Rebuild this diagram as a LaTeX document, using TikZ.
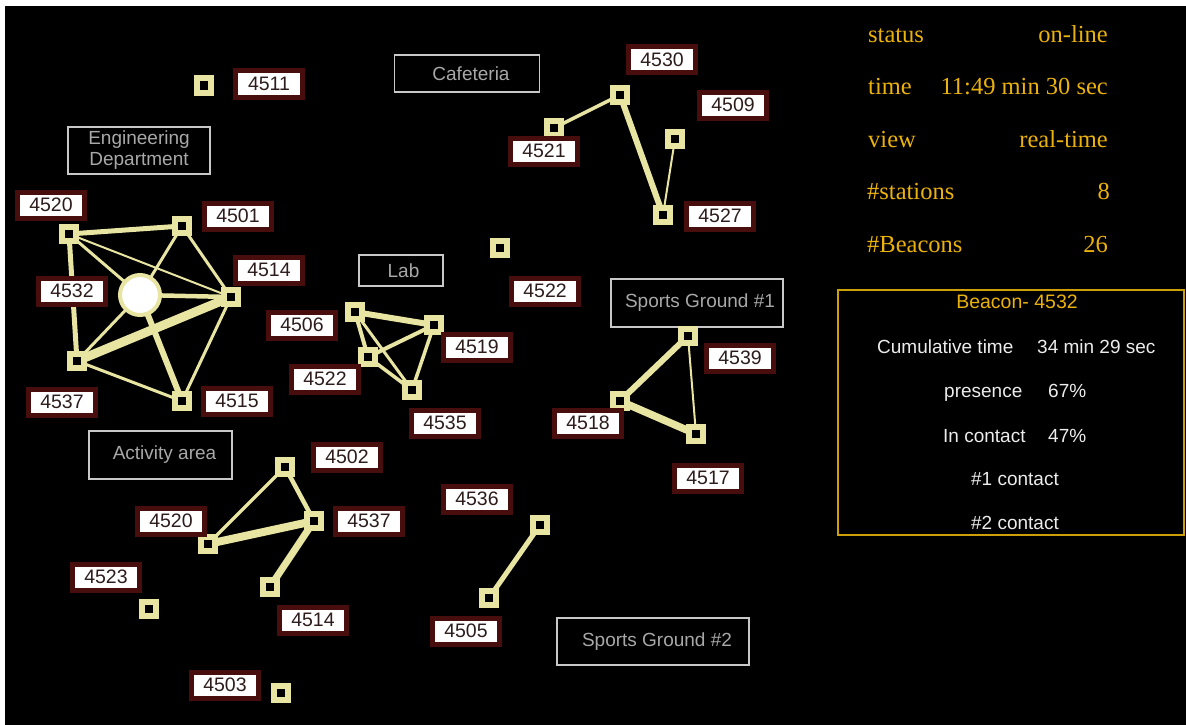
\documentclass[tikz,border=0pt]{standalone}
\usepackage{fontspec}
\setmainfont{Liberation Sans}
\newfontfamily\goldserif{Liberation Serif}
\definecolor{cream}{RGB}{232,228,162}
\definecolor{tagborder}{RGB}{72,14,14}
\definecolor{tagtext}{RGB}{45,28,28}
\definecolor{areaborder}{RGB}{200,200,200}
\definecolor{areatext}{RGB}{168,168,168}
\definecolor{goldtext}{RGB}{236,178,12}
\definecolor{goldbox}{RGB}{205,160,10}
\definecolor{paneltext}{RGB}{236,236,236}
\pgfdeclarelayer{bg}
\pgfdeclarelayer{edges}
\pgfsetlayers{bg,edges,main}
\tikzset{
  beacon/.style={rectangle, fill=black, draw=cream, line width=6pt, minimum size=14pt, inner sep=0pt},
  hub/.style={circle, fill=white, draw=cream, line width=4pt, minimum size=40pt, inner sep=0pt},
  tag/.style={rectangle, fill=white, draw=tagborder, line width=5pt, minimum width=67pt, minimum height=26pt, inner sep=0pt, text=tagtext, font=\fontsize{19.5}{21}\selectfont},
  area/.style={rectangle, draw=areaborder, line width=1.5pt, text=areatext, font=\fontsize{19}{21}\selectfont, inner sep=0pt, align=center},
  link/.style={draw=cream, line width=#1},
  statl/.style={anchor=base west, text=goldtext, font=\goldserif\fontsize{24.5}{26}\selectfont, inner sep=0pt},
  statr/.style={anchor=base east, text=goldtext, font=\goldserif\fontsize{24.5}{26}\selectfont, inner sep=0pt},
  infol/.style={anchor=base west, text=paneltext, font=\fontsize{19}{21}\selectfont, inner sep=0pt},
  infoc/.style={anchor=base, text=paneltext, font=\fontsize{19}{21}\selectfont, inner sep=0pt}
}
\begin{document}
\begin{tikzpicture}[x=1pt, y=-1pt]
\useasboundingbox (0,0) rectangle (1186,725);
\begin{pgfonlayer}{bg}
  \fill[white] (0,0) rectangle (1186,725);
  \fill[black] (5,6) rectangle (1186,725);
\end{pgfonlayer}

% ---------- area boxes ----------
\node[area, minimum width=142pt, minimum height=47pt] (engdept) at (139,150.5) {Engineering\\Department};
\node[area, minimum width=145pt, minimum height=37pt] (cafeteria) at (467,73.5) {\hspace*{8pt}Cafeteria};
\node[area, minimum width=84pt, minimum height=31pt] (lab) at (401,270.5) {\hspace*{5pt}Lab};
\node[area, minimum width=172pt, minimum height=48pt] (sg1) at (697,303) {\hspace*{6pt}Sports Ground \#1};
\node[area, minimum width=143pt, minimum height=48pt] (activity) at (160.5,455) {\hspace*{8pt}Activity area};
\node[area, minimum width=192pt, minimum height=47pt] (sg2) at (653,641.5) {\hspace*{8pt}Sports Ground \#2};

% ---------- engineering group ----------
\node[beacon] (e4511) at (203.5,85.5) {};
\node[beacon] (e4520) at (69,234) {};
\node[beacon] (e4501) at (182,226) {};
\node[beacon] (e4514) at (231,297) {};
\node[hub] (e4532) at (140,295) {};
\node[beacon] (e4537) at (77,361) {};
\node[beacon] (e4515) at (182,401) {};
\node[tag] (t4511) at (269,84) {4511};
\node[tag] (t4520) at (51,205) {4520};
\node[tag] (t4501) at (238,216) {4501};
\node[tag] (t4514) at (269,270) {4514};
\node[tag] (t4532) at (72,291) {4532};
\node[tag] (t4537) at (62,402) {4537};
\node[tag] (t4515) at (237,401) {4515};

% ---------- cafeteria group ----------
\node[beacon] (c4530) at (620,95) {};
\node[beacon] (c4521) at (554,128) {};
\node[beacon] (c4509) at (675,139) {};
\node[beacon] (c4527) at (663,215) {};
\node[tag] (tc4530) at (662,60) {4530};
\node[tag] (tc4509) at (733,105) {4509};
\node[tag] (tc4521) at (544,151) {4521};
\node[tag] (tc4527) at (720,216) {4527};

% ---------- lab group ----------
\node[beacon] (l4506) at (355,312) {};
\node[beacon] (l4519) at (434,325) {};
\node[beacon] (l4522) at (368,357) {};
\node[beacon] (l4535) at (412,390) {};
\node[beacon] (l4522b) at (500,248) {};
\node[tag] (tl4506) at (302,325) {4506};
\node[tag] (tl4519) at (477,347) {4519};
\node[tag] (tl4522) at (325,379) {4522};
\node[tag] (tl4535) at (445,423) {4535};
\node[tag] (tl4522b) at (545,291) {4522};

% ---------- sports ground 1 group ----------
\node[beacon] (s4539) at (688,336) {};
\node[beacon] (s4518) at (620,401) {};
\node[beacon] (s4517) at (696,434) {};
\node[tag] (ts4539) at (740,358) {4539};
\node[tag] (ts4518) at (588,423) {4518};
\node[tag] (ts4517) at (708,478) {4517};

% ---------- activity group ----------
\node[beacon] (a4502) at (285,467) {};
\node[beacon] (a4537) at (314,521) {};
\node[beacon] (a4520) at (208,544) {};
\node[beacon] (a4514) at (270,587) {};
\node[beacon] (a4523) at (149,609) {};
\node[beacon] (a4503) at (281,693) {};
\node[tag] (ta4502) at (347,457) {4502};
\node[tag] (ta4537) at (369,521) {4537};
\node[tag] (ta4520) at (171,521) {4520};
\node[tag] (ta4523) at (106,577) {4523};
\node[tag] (ta4514) at (313,620) {4514};
\node[tag] (ta4503) at (225,685) {4503};

% ---------- sports ground 2 group ----------
\node[beacon] (g4536) at (540,525) {};
\node[beacon] (g4505) at (489,598) {};
\node[tag] (tg4536) at (477,499) {4536};
\node[tag] (tg4505) at (466,631) {4505};

% ---------- connectors ----------
\begin{pgfonlayer}{edges}
  \draw[link=5pt] (e4520.center) -- (e4501.center);
  \draw[link=5pt] (e4520.center) -- (e4537.center);
  \draw[link=2pt] (e4520.center) -- (e4514.center);
  \draw[link=3pt] (e4520.center) -- (e4532.center);
  \draw[link=3pt] (e4501.center) -- (e4532.center);
  \draw[link=3pt] (e4501.center) -- (e4514.center);
  \draw[link=4.5pt] (e4532.center) -- (e4514.center);
  \draw[link=9pt] (e4514.center) -- (e4537.center);
  \draw[link=3pt] (e4514.center) -- (e4515.center);
  \draw[link=3pt] (e4532.center) -- (e4537.center);
  \draw[link=6pt] (e4532.center) -- (e4515.center);
  \draw[link=3pt] (e4537.center) -- (e4515.center);

  \draw[link=3.5pt] (c4521.center) -- (c4530.center);
  \draw[link=6pt] (c4530.center) -- (c4527.center);
  \draw[link=2pt] (c4509.center) -- (c4527.center);

  \draw[link=6pt] (l4506.center) -- (l4519.center);
  \draw[link=4pt] (l4506.center) -- (l4522.center);
  \draw[link=3pt] (l4506.center) -- (l4535.center);
  \draw[link=4pt] (l4519.center) -- (l4522.center);
  \draw[link=3.5pt] (l4519.center) -- (l4535.center);
  \draw[link=3.5pt] (l4522.center) -- (l4535.center);

  \draw[link=6pt] (s4539.center) -- (s4518.center);
  \draw[link=7.5pt] (s4518.center) -- (s4517.center);
  \draw[link=2pt] (s4539.center) -- (s4517.center);

  \draw[link=3.5pt] (a4502.center) -- (a4520.center);
  \draw[link=4.5pt] (a4502.center) -- (a4537.center);
  \draw[link=8pt] (a4520.center) -- (a4537.center);
  \draw[link=7pt] (a4537.center) -- (a4514.center);

  \draw[link=5pt] (g4536.center) -- (g4505.center);
\end{pgfonlayer}

% ---------- status panel ----------
\node[statl] (pstatus) at (868,43) {status};
\node[statr] (vstatus) at (1108,43) {on-line};
\node[statl] (ptime) at (868,95) {time};
\node[statr] (vtime) at (1108,95) {11:49 min 30 sec};
\node[statl] (pview) at (868,147) {view};
\node[statr] (vview) at (1108,147) {real-time};
\node[statl] (pstations) at (867,199) {\#stations};
\node[statr] (vstations) at (1110,199) {8};
\node[statl] (pbeacons) at (867,252) {\#Beacons};
\node[statr] (vbeacons) at (1108,252) {26};

% ---------- beacon info box ----------
\node[draw=goldbox, line width=2pt, minimum width=346pt, minimum height=245pt, inner sep=0pt] (infobox) at (1011,412.5) {};
\node[anchor=base, text=goldtext, font=\fontsize{19.5}{21}\selectfont, inner sep=0pt] (infotitle) at (1017,308) {Beacon- 4532};
\node[infol] (icum) at (877,353) {Cumulative time};
\node[infol] (icumv) at (1037,353) {34 min 29 sec};
\node[infol] (ipres) at (944,397) {presence};
\node[infol] (ipresv) at (1048,397) {67\%};
\node[infol] (icont) at (943,442) {In contact};
\node[infol] (icontv) at (1048,442) {47\%};
\node[infoc] (ifirst) at (1015,485) {\#1 contact};
\node[infoc] (isecond) at (1015,529) {\#2 contact};
\end{tikzpicture}
\end{document}
